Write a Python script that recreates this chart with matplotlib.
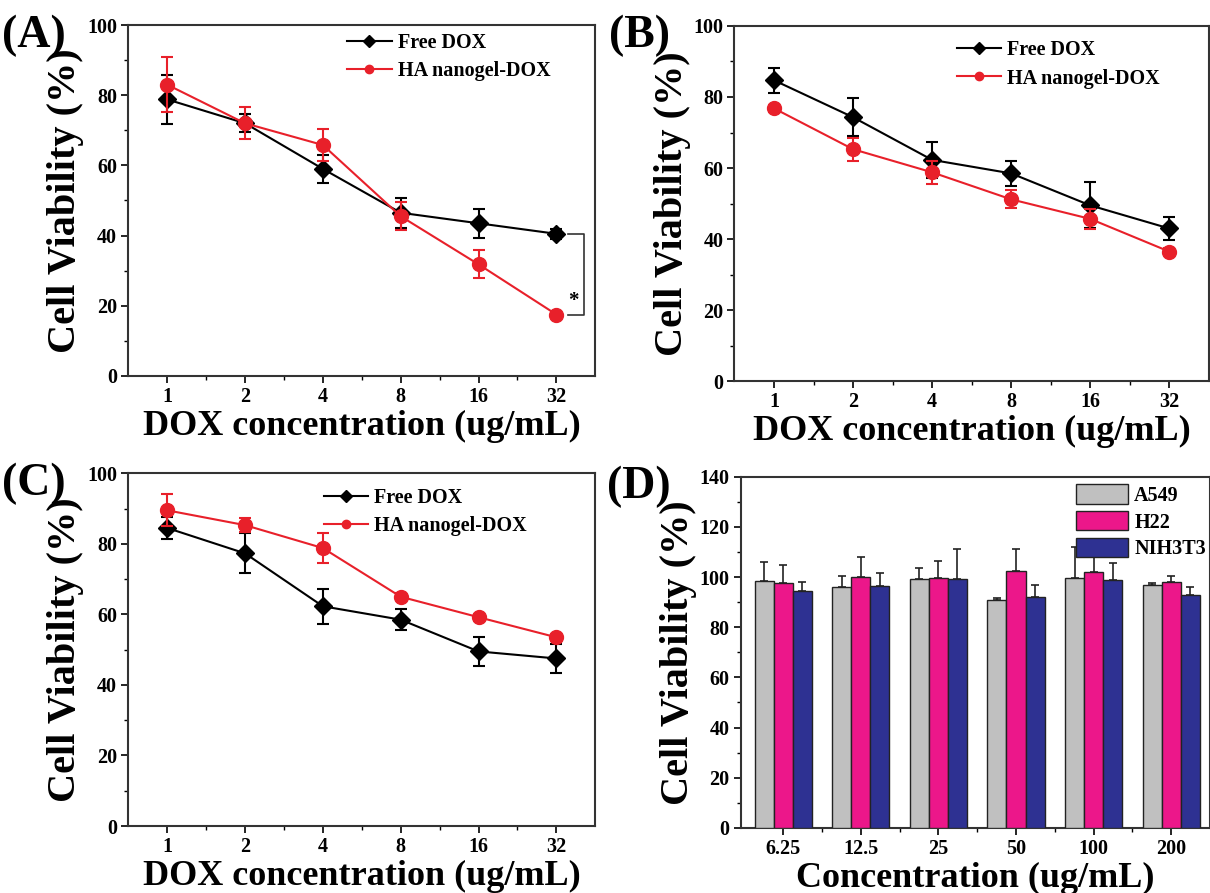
import matplotlib
matplotlib.use("Agg")
import matplotlib.pyplot as plt
import numpy as np
from matplotlib.ticker import MultipleLocator
from matplotlib.lines import Line2D
from matplotlib.patches import Patch

plt.rcParams["font.family"] = ["Liberation Serif", "DejaVu Serif"]
plt.rcParams["font.weight"] = "bold"

# data
dox_labels = ["1", "2", "4", "8", "16", "32"]

a_free = [78.8, 72.0, 59.0, 46.5, 43.5, 40.5]
a_free_err = [7.0, 2.5, 4.0, 4.2, 4.2, 1.5]
a_ha = [83.0, 72.0, 65.8, 45.5, 31.8, 17.5]
a_ha_err = [7.8, 4.6, 4.5, 4.0, 4.0, 0.8]

b_free = [84.7, 74.3, 62.3, 58.5, 49.5, 43.0]
b_free_err = [3.5, 5.3, 5.0, 3.5, 6.5, 3.3]
b_ha = [76.8, 65.3, 58.8, 51.2, 45.7, 36.5]
b_ha_err = [1.0, 3.2, 3.2, 2.5, 2.8, 1.0]

c_free = [84.5, 77.3, 62.3, 58.5, 49.5, 47.5]
c_free_err = [3.0, 5.7, 5.0, 3.0, 4.0, 4.0]
c_ha = [89.5, 85.3, 78.8, 65.0, 59.2, 53.5]
c_ha_err = [4.5, 2.0, 4.3, 1.0, 1.0, 1.0]

conc_labels = ["6.25", "12.5", "25", "50", "100", "200"]
d_a549 = [98.5, 96.0, 99.3, 91.0, 99.5, 97.0]
d_a549_err = [7.5, 4.5, 4.3, 0.5, 12.5, 0.5]
d_h22 = [97.5, 100.0, 99.5, 102.5, 102.0, 98.0]
d_h22_err = [7.3, 8.0, 7.0, 8.7, 10.0, 2.5]
d_nih = [94.5, 96.5, 99.3, 92.0, 99.0, 93.0]
d_nih_err = [3.7, 5.0, 12.0, 4.7, 6.7, 3.2]

RED = "#e8202a"
GREY = "#c0c0c0"
PINK = "#ec178a"
NAVY = "#2e3192"

fig = plt.figure(figsize=(12.1, 8.93), dpi=100)


def style_axes(ax, ymax, major, minor):
    ax.set_ylim(0, ymax)
    ax.yaxis.set_major_locator(MultipleLocator(major))
    ax.yaxis.set_minor_locator(MultipleLocator(minor))
    ax.tick_params(axis="both", which="major", direction="out", length=5, width=1.2, labelsize=14.5, pad=3)
    ax.tick_params(axis="both", which="minor", direction="out", length=3, width=1.0)
    for sp in ax.spines.values():
        sp.set_linewidth(1.5)
        sp.set_color("#333333")
    ax.set_ylabel("Cell Viability (%)", fontsize=29, fontweight="bold", labelpad=2)


def line_panel(pos, free, free_err, ha, ha_err, letter, legend_xy):
    ax = fig.add_axes(pos)
    x = np.arange(len(dox_labels))
    ax.errorbar(x, free, yerr=free_err, color="black", marker="D", markersize=9,
                linewidth=1.5, capsize=4, elinewidth=1.5, capthick=1.5, zorder=3)
    ax.errorbar(x, ha, yerr=ha_err, color=RED, marker="o", markersize=10,
                linewidth=1.5, capsize=4, elinewidth=1.5, capthick=1.5, zorder=4)
    ax.set_xlim(-0.5, 5.5)
    ax.set_xticks(x)
    ax.set_xticklabels(dox_labels)
    ax.set_xticks(x[:-1] + 0.5, minor=True)
    style_axes(ax, 100, 20, 10)
    ax.set_xlabel("DOX concentration (ug/mL)", fontsize=26, fontweight="bold", labelpad=2)
    handles = [
        Line2D([], [], color="black", marker="D", markersize=6, linewidth=1.5),
        Line2D([], [], color=RED, marker="o", markersize=6, linewidth=1.5),
    ]
    ax.legend(handles, ["Free DOX", "HA nanogel-DOX"], loc="upper left",
              bbox_to_anchor=legend_xy, frameon=False, fontsize=14.5,
              handlelength=2.2, handletextpad=0.3, labelspacing=0.4)
    fig.text(pos[0] - 0.104, pos[1] + pos[3] + 0.012, letter, fontsize=33,
             fontweight="bold", va="top", ha="left")
    return ax


ax_a = line_panel([0.106, 0.579, 0.386, 0.393], a_free, a_free_err, a_ha, a_ha_err,
                  "(A)", (0.43, 1.03))
# significance bracket
ax_a.plot([5.15, 5.35, 5.35, 5.15], [a_free[5], a_free[5], a_ha[5], a_ha[5]],
          color="#333333", linewidth=1.2)
ax_a.text(5.22, a_ha[5] + 1, "*", fontsize=15, fontweight="bold", ha="center", va="bottom")

line_panel([0.607, 0.573, 0.392, 0.398], b_free, b_free_err, b_ha, b_ha_err,
           "(B)", (0.43, 1.01))
line_panel([0.106, 0.075, 0.386, 0.395], c_free, c_free_err, c_ha, c_ha_err,
           "(C)", (0.38, 1.01))

# bar panel
pos_d = [0.612, 0.073, 0.388, 0.393]
ax_d = fig.add_axes(pos_d)
xd = np.arange(len(conc_labels))
w = 0.245
for off, vals, errs, col in [(-w, d_a549, d_a549_err, GREY),
                              (0, d_h22, d_h22_err, PINK),
                              (w, d_nih, d_nih_err, NAVY)]:
    ax_d.bar(xd + off, vals, width=w, color=col, edgecolor="#222222", linewidth=1.0,
             yerr=[np.zeros(len(errs)), errs], capsize=3,
             error_kw=dict(elinewidth=1.2, capthick=1.2, ecolor="#222222"), zorder=3)
ax_d.set_xlim(-0.55, 5.5)
ax_d.set_xticks(xd)
ax_d.set_xticklabels(conc_labels)
ax_d.set_xticks(xd[:-1] + 0.5, minor=True)
style_axes(ax_d, 140, 20, 10)
ax_d.set_xlabel("Concentration (ug/mL)", fontsize=26, fontweight="bold", labelpad=2)
handles_d = [Patch(facecolor=c, edgecolor="#222222", linewidth=1.0) for c in (GREY, PINK, NAVY)]
ax_d.legend(handles_d, ["A549", "H22", "NIH3T3"], loc="upper right", bbox_to_anchor=(1.03, 1.03),
            frameon=False, fontsize=14.5, handlelength=2.6, handleheight=1.1,
            handletextpad=0.3, labelspacing=0.25)
fig.text(pos_d[0] - 0.11, pos_d[1] + pos_d[3] + 0.012, "(D)", fontsize=33,
         fontweight="bold", va="top", ha="left")

fig.savefig("out.png", dpi=100)
